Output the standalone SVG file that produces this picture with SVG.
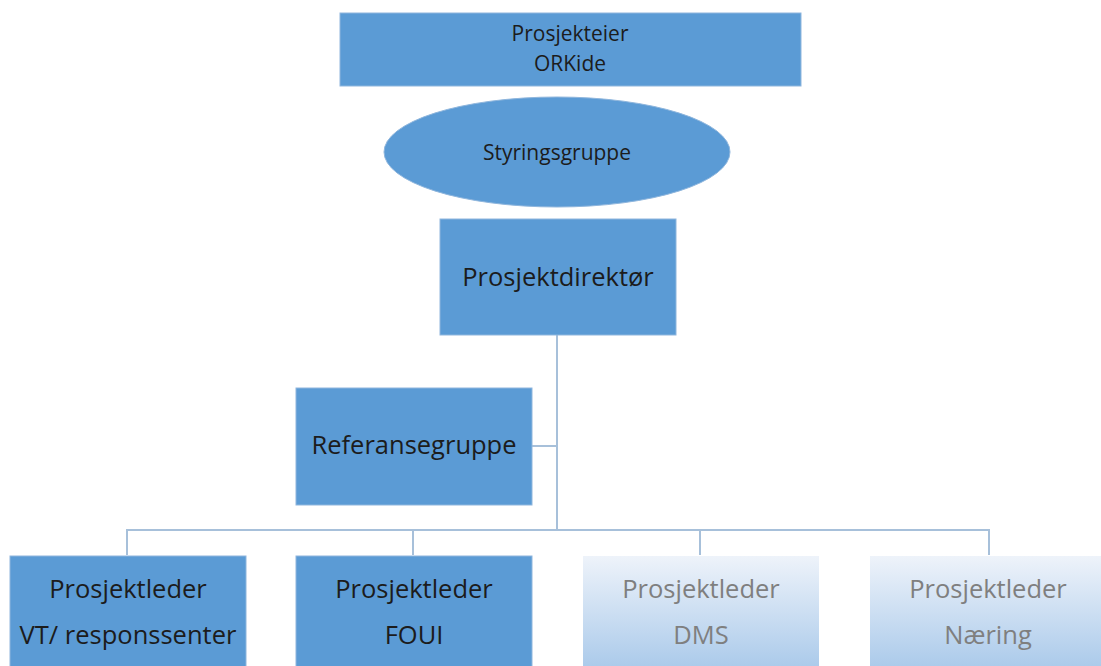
<svg xmlns="http://www.w3.org/2000/svg" width="1101" height="666" viewBox="0 0 1101 666">
<defs>
<linearGradient id="fade" x1="0" y1="0" x2="0" y2="1">
<stop offset="0" stop-color="#eef3fa"/>
<stop offset="1" stop-color="#a9c9ea"/>
</linearGradient>
<style>
.box{fill:#5b9bd5;stroke:#8fb6dd;stroke-width:1}
.faded{fill:url(#fade)}
.t{font-family:"Open Sans","Liberation Sans",sans-serif;fill:#1c1c1c;text-anchor:middle}
.big{font-size:25.5px}
.small{font-size:21px}
.g{fill:#7f7f7f}
.c{stroke:#a7c0da;stroke-width:2;fill:none}
</style>
</defs>
<rect width="1101" height="666" fill="#ffffff"/>
<g id="connectors">
<line class="c" x1="557" y1="335" x2="557" y2="531"/>
<line class="c" x1="532" y1="446" x2="557" y2="446"/>
<polyline class="c" points="127,555 127,530 989,530 989,555"/>
<line class="c" x1="413" y1="530" x2="413" y2="555"/>
<line class="c" x1="700" y1="530" x2="700" y2="555"/>
</g>
<g id="prosjekteier">
<rect class="box" x="340" y="13" width="461" height="73"/>
<text class="t small" x="570" y="41">Prosjekteier</text>
<text class="t small" x="570" y="71">ORKide</text>
</g>
<g id="styringsgruppe">
<ellipse fill="#5b9bd5" stroke="#8fb6dd" cx="557" cy="152" rx="173" ry="55"/>
<text class="t small" x="557" y="160">Styringsgruppe</text>
</g>
<g id="prosjektdirektor">
<rect class="box" x="440" y="219" width="236" height="116"/>
<text class="t big" x="558" y="286">Prosjektdirektør</text>
</g>
<g id="referansegruppe">
<rect class="box" x="296" y="388" width="236" height="117"/>
<text class="t big" x="414" y="454">Referansegruppe</text>
</g>
<g id="pl-vt">
<rect class="box" x="10" y="556" width="236" height="115"/>
<text class="t big" x="128" y="598">Prosjektleder</text>
<text class="t big" x="128" y="644">VT/ responssenter</text>
</g>
<g id="pl-foui">
<rect class="box" x="296" y="556" width="236" height="115"/>
<text class="t big" x="414" y="598">Prosjektleder</text>
<text class="t big" x="414" y="644">FOUI</text>
</g>
<g id="pl-dms">
<rect class="faded" x="583" y="556" width="236" height="115"/>
<text class="t big g" x="701" y="598">Prosjektleder</text>
<text class="t big g" x="701" y="644">DMS</text>
</g>
<g id="pl-naering">
<rect class="faded" x="870" y="556" width="236" height="115"/>
<text class="t big g" x="988" y="598">Prosjektleder</text>
<text class="t big g" x="988" y="644">Næring</text>
</g>
</svg>
